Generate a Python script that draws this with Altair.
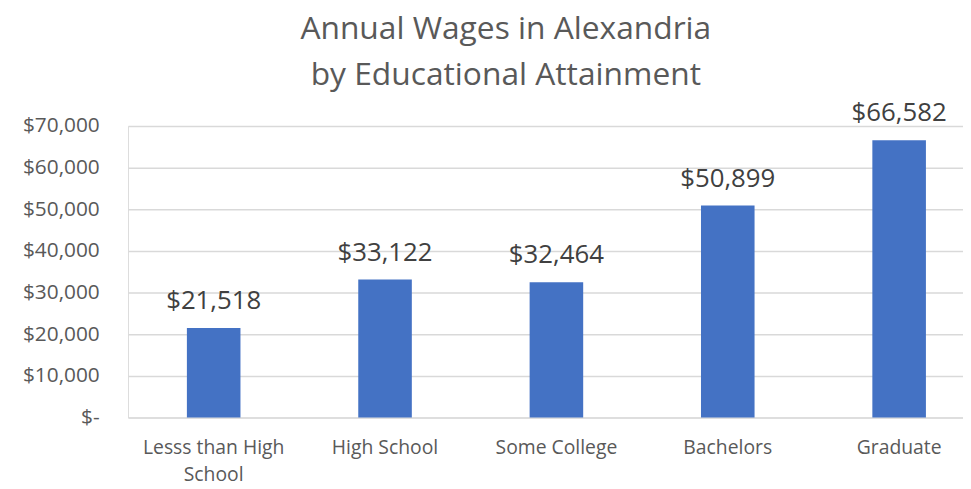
import altair as alt
import pandas as pd

categories = ["Lesss than High School", "High School", "Some College", "Bachelors", "Graduate"]
wages = [21518, 33122, 32464, 50899, 66582]
y_ticks = [0, 10000, 20000, 30000, 40000, 50000, 60000, 70000]

df = pd.DataFrame({"Education": categories, "Wage": wages})

FONT = "Open Sans"

x_enc = alt.X(
    "Education:N",
    sort=categories,
    title=None,
    scale=alt.Scale(range=[0, 864], paddingInner=0.6874, paddingOuter=0.3437),
    axis=alt.Axis(
        labelAngle=0,
        labelFont=FONT,
        labelFontSize=19.5,
        labelColor="#595959",
        labelPadding=21,
        labelLineHeight=27,
        labelBaseline="top",
        ticks=False,
        tickSize=0,
        domain=False,
        grid=False,
        labelExpr="datum.value == 'Lesss than High School' ? ['Lesss than High', 'School'] : datum.label",
    ),
)

y_enc = alt.Y(
    "Wage:Q",
    title=None,
    scale=alt.Scale(domain=[0, 70000], nice=False),
    axis=alt.Axis(
        values=y_ticks,
        labelFont=FONT,
        labelFontSize=21,
        labelColor="#595959",
        labelPadding=29,
        labelBaseline="middle",
        ticks=False,
        tickSize=0,
        domain=False,
        grid=True,
        gridColor="#D9D9D9",
        gridWidth=1.5,
        labelExpr="datum.value == 0 ? '$-\u2007' : format(datum.value, '$,.0f')",
    ),
)

base = alt.Chart(df).encode(x=x_enc, y=y_enc)

bars = base.mark_bar(color="#4472C4")
labels = base.mark_text(
    font=FONT, fontSize=26, color="#404040", baseline="alphabetic", dy=-19
).encode(text=alt.Text("Wage:Q", format="$,.0f"))

chart = (
    alt.layer(bars, labels)
    .properties(
        width=842,
        height=294,
        title=alt.TitleParams(
            text=["Annual Wages in Alexandria", "by Educational Attainment"],
            font=FONT,
            fontSize=32,
            fontWeight="normal",
            color="#595959",
            lineHeight=46,
            anchor="middle",
            baseline="alphabetic",
            dx=-40,
            dy=56,
            offset=40,
        ),
        autosize=alt.AutoSizeParams(type="none"),
        padding={"left": 121, "top": 117, "right": 0, "bottom": 62},
    )
    .configure_view(stroke=None)
    .configure(background="white")
)

chart.save("out.html", embed_options={"renderer": "svg", "actions": False})
